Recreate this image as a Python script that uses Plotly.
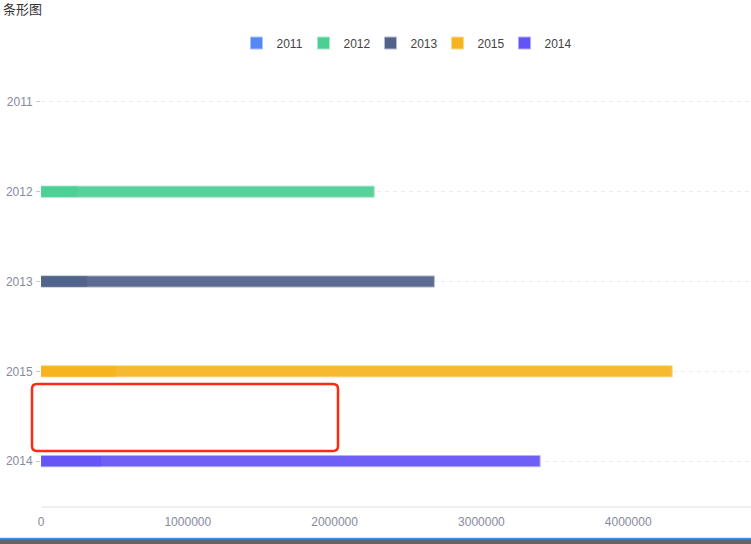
"""
Horizontal bar chart (条形图): one bar per year, with a darker overlapping segment.
"""

import plotly.graph_objects as go

# categories, top to bottom
years = ["2011", "2012", "2013", "2015", "2014"]
# full bar length per year (2011 has no bar)
totals = [None, 2270000, 2680000, 4300000, 3400000]
# shorter overlapping bar per year
parts = [None, 250000, 315000, 510000, 410000]
colors = ["#5588F7", "#4CCF95", "#51638A", "#F6B420", "#6454F6"]
edge_colors = ["#A9C3FB", "#A4E9C8", "#B4BCCD", "#FAD98E", "#B3ABFA"]
x_ticks = [0, 1000000, 2000000, 3000000, 4000000]

W, H = 751, 544
L, R, T, B = 41, 0, 57, 38
pw, ph = W - L - R, H - T - B


def px_x(px):
    return (px - L) / pw


def px_y(py):
    return (H - B - py) / ph


def make_image():
    fig = go.Figure()

    for year, total, part, color, edge in zip(years, totals, parts, colors, edge_colors):
        fig.add_trace(
            go.Bar(
                y=[year],
                x=[total],
                orientation="h",
                name=year,
                legendgroup=year,
                marker=dict(color=color, opacity=0.93, line=dict(width=1, color=edge)),
                width=0.125,
            )
        )
        fig.add_trace(
            go.Bar(
                y=[year],
                x=[part],
                orientation="h",
                name=year,
                legendgroup=year,
                showlegend=False,
                marker=dict(color=color, opacity=0.9, line=dict(width=0)),
                width=0.115,
            )
        )

    tick_font = dict(family="Liberation Sans, Arial, sans-serif", size=12, color="#868A9E")

    fig.update_layout(
        width=W,
        height=H,
        margin=dict(l=L, r=R, t=T, b=B, autoexpand=False),
        barmode="overlay",
        plot_bgcolor="white",
        paper_bgcolor="white",
        font=dict(family="Liberation Sans, Arial, sans-serif", size=12, color="#333"),
        title=dict(
            text="条形图",
            x=3 / W,
            xref="container",
            xanchor="left",
            y=1 - 9 / H,
            yref="container",
            yanchor="middle",
            font=dict(family="Noto Sans CJK SC", size=13, color="#333"),
        ),
        legend=dict(
            orientation="h",
            x=404 / W,
            xref="container",
            xanchor="center",
            y=1 - 43 / H,
            yref="container",
            yanchor="middle",
            font=dict(size=12, color="#444"),
            entrywidth=22,
            itemwidth=30,
            traceorder="normal",
        ),
        xaxis=dict(
            range=[0, pw / 146.8 * 1000000],
            tickvals=x_ticks,
            ticktext=[str(v) for v in x_ticks],
            showgrid=False,
            zeroline=False,
            showline=True,
            linecolor="#EFEFF2",
            linewidth=2,
            ticks="",
            tickfont=tick_font,
            ticklabelstandoff=4,
            fixedrange=True,
        ),
        yaxis=dict(
            type="category",
            categoryorder="array",
            categoryarray=years,
            autorange="reversed",
            showgrid=True,
            gridcolor="#E8EAF0",
            griddash="4px,4px",
            gridwidth=1,
            zeroline=False,
            showline=False,
            ticks="outside",
            ticklen=4,
            tickcolor="#C8CAD2",
            tickfont=tick_font,
            ticklabelstandoff=1,
            fixedrange=True,
        ),
    )

    # red highlight box drawn on the picture
    x0, x1 = px_x(32), px_x(338)
    y0, y1 = px_y(451), px_y(384)
    rx, ry = 5 / pw, 5 / ph
    path = (
        f"M {x0 + rx},{y0} L {x1 - rx},{y0} Q {x1},{y0} {x1},{y0 + ry} "
        f"L {x1},{y1 - ry} Q {x1},{y1} {x1 - rx},{y1} "
        f"L {x0 + rx},{y1} Q {x0},{y1} {x0},{y1 - ry} "
        f"L {x0},{y0 + ry} Q {x0},{y0} {x0 + rx},{y0} Z"
    )
    fig.add_shape(
        type="path",
        path=path,
        xref="paper",
        yref="paper",
        line=dict(color="#FF2A12", width=2.5),
    )

    # page strip cut off at the bottom of the screenshot
    fig.add_shape(
        type="rect",
        xref="paper",
        yref="paper",
        x0=px_x(0),
        x1=px_x(W),
        y0=px_y(H + 2),
        y1=px_y(539),
        fillcolor="#666666",
        line=dict(width=0),
        layer="above",
    )
    fig.add_shape(
        type="line",
        xref="paper",
        yref="paper",
        x0=px_x(0),
        x1=px_x(W),
        y0=px_y(538.5),
        y1=px_y(538.5),
        line=dict(color="#4A8FEA", width=1.5),
    )

    return fig


def main():
    fig = make_image()
    fig.write_html(
        "out.html",
        config=dict(displayModeBar=False),
        post_script="document.body.style.margin='0';",
    )


if __name__ == "__main__":
    main()
